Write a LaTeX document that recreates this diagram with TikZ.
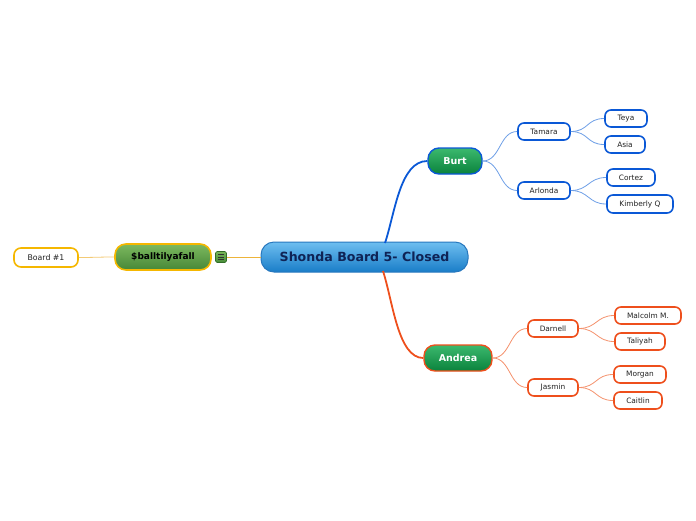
\documentclass[tikz,border=0pt]{standalone}
\usepackage{fontspec}
\setmainfont{DejaVu Sans}
\usetikzlibrary{calc}
\definecolor{bblue}{HTML}{0A58D6}
\definecolor{lblue}{HTML}{6E9FE6}
\definecolor{borange}{HTML}{EE4F1C}
\definecolor{lorange}{HTML}{F4916C}
\definecolor{byellow}{HTML}{F5B700}
\definecolor{lyellow}{HTML}{EDB43A}
\definecolor{txt}{HTML}{222222}
\tikzset{
  x=1pt,y=-1pt,
  leaf/.style={draw=#1,line width=1.6pt,fill=white,rounded corners=6pt,minimum height=17pt,inner sep=0pt,font=\fontsize{7.4}{8}\selectfont,text=txt},
  mainnode/.style={draw=#1,line width=1.4pt,rounded corners=11pt,minimum height=26pt,inner sep=0pt,font=\fontsize{9.5}{10}\selectfont\bfseries,text=white},
  sub/.style={line width=0.8pt,#1},
  branch/.style={line width=1.8pt,#1},
}
\begin{document}
\begin{tikzpicture}
\useasboundingbox (0,0) rectangle (696,520);
% central
\node[draw={rgb,255:red,40;green,120;blue,190},line width=1pt,rounded corners=13pt,minimum width=207pt,minimum height=30pt,inner sep=0pt,
  top color={rgb,255:red,110;green,190;blue,240},bottom color={rgb,255:red,25;green,125;blue,200},
  font=\fontsize{12.6}{14}\selectfont\bfseries,text={rgb,255:red,15;green,35;blue,85}] (central) at (364.5,257) {Shonda Board 5- Closed};
% left side
\node[draw=byellow,line width=1.6pt,rounded corners=11pt,minimum width=96pt,minimum height=26pt,inner sep=0pt,
  top color={rgb,255:red,125;green,185;blue,95},bottom color={rgb,255:red,70;green,135;blue,55},
  font=\fontsize{9}{10}\selectfont\bfseries,text=black] (ball) at (163,257) {\$balltilyafall};
\node[draw={rgb,255:red,50;green,110;blue,40},line width=0.6pt,rounded corners=1.5pt,minimum width=11pt,minimum height=11pt,inner sep=0pt,
  top color={rgb,255:red,120;green,180;blue,90},bottom color={rgb,255:red,70;green,140;blue,55}] (icon) at (221,257) {};
\foreach \dy in {-2.5,0,2.5}{\draw[line width=0.7pt,black!80] ($(icon.center)+(-3,\dy)$) -- ($(icon.center)+(3,\dy)$);}
\node[leaf=byellow,minimum width=64pt,minimum height=19pt,rounded corners=7pt,font=\fontsize{7.8}{9}\selectfont] (board) at (46,257.5) {Board \#1};
\draw[line width=0.8pt,lyellow] (central.west) -- (icon.east);
\draw[line width=0.8pt,lyellow!70] (ball.west) .. controls +(-15,0) and +(15,0) .. (board.east);
% main branches
\node[mainnode=bblue,minimum width=54pt,top color={rgb,255:red,60;green,185;blue,110},bottom color={rgb,255:red,10;green,130;blue,60}] (burt) at (455,161) {Burt};
\node[mainnode=borange,minimum width=68pt,top color={rgb,255:red,60;green,185;blue,110},bottom color={rgb,255:red,10;green,130;blue,60}] (andrea) at (458,358) {Andrea};
\coordinate (cb) at (385,243);
\coordinate (ca) at (383,271);
\draw[branch=bblue] (cb) .. controls (395,213) and (400,161) .. (burt.west);
\draw[branch=borange] (ca) .. controls (393,302) and (398,358) .. (andrea.west);
% Burt subtree
\node[leaf=bblue,minimum width=52pt] (tamara) at (544,131.5) {Tamara};
\node[leaf=bblue,minimum width=52pt] (arlonda) at (544,190.5) {Arlonda};
\node[leaf=bblue,minimum width=42pt] (teya) at (626,118.5) {Teya};
\node[leaf=bblue,minimum width=40pt] (asia) at (625,144.5) {Asia};
\node[leaf=bblue,minimum width=48pt] (cortez) at (631,177.5) {Cortez};
\node[leaf=bblue,minimum width=66pt,minimum height=18pt] (kim) at (640,204) {Kimberly Q};
\foreach \a/\b in {burt/tamara,burt/arlonda,tamara/teya,tamara/asia,arlonda/cortez,arlonda/kim}{
  \draw[sub=lblue] (\a.east) .. controls +(18,0) and +(-18,0) .. (\b.west);}
% Andrea subtree
\node[leaf=borange,minimum width=50pt] (darnell) at (553,328.5) {Darnell};
\node[leaf=borange,minimum width=50pt] (jasmin) at (553,387.5) {Jasmin};
\node[leaf=borange,minimum width=66pt] (malcolm) at (648,315.5) {Malcolm M.};
\node[leaf=borange,minimum width=50pt] (taliyah) at (640,341.5) {Taliyah};
\node[leaf=borange,minimum width=52pt] (morgan) at (640,374.5) {Morgan};
\node[leaf=borange,minimum width=48pt] (caitlin) at (638,400.5) {Caitlin};
\foreach \a/\b in {andrea/darnell,andrea/jasmin,darnell/malcolm,darnell/taliyah,jasmin/morgan,jasmin/caitlin}{
  \draw[sub=lorange] (\a.east) .. controls +(18,0) and +(-18,0) .. (\b.west);}
\end{tikzpicture}
\end{document}
